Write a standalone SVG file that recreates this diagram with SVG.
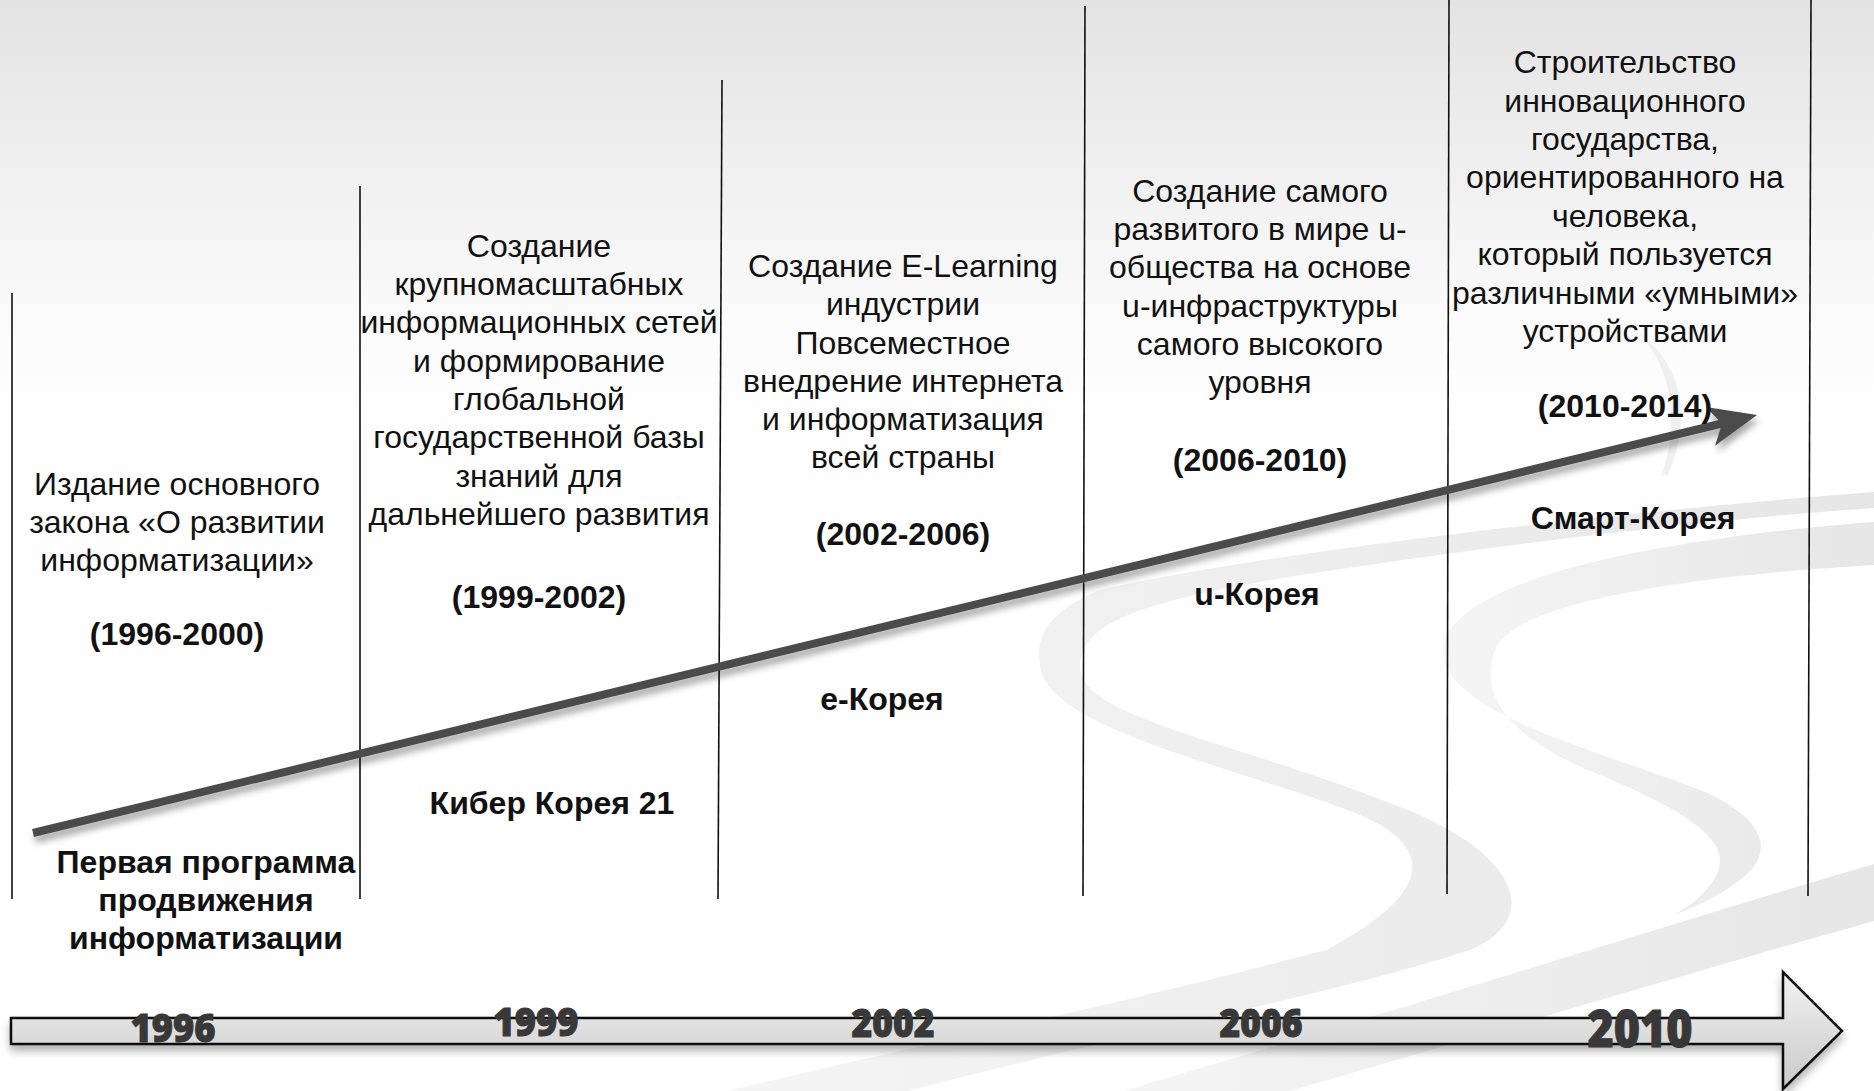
<svg xmlns="http://www.w3.org/2000/svg" width="1874" height="1091" viewBox="0 0 1874 1091">
<defs>
  <linearGradient id="bg" x1="0" y1="0" x2="0" y2="1091" gradientUnits="userSpaceOnUse">
    <stop offset="0" stop-color="#e3e3e3"/>
    <stop offset="0.12" stop-color="#ededed"/>
    <stop offset="0.3" stop-color="#fbfbfb"/>
    <stop offset="0.4" stop-color="#ffffff"/>
  </linearGradient>
  <linearGradient id="bar" x1="0" y1="0" x2="0" y2="1" >
    <stop offset="0" stop-color="#f2f2f2"/>
    <stop offset="1" stop-color="#c9c9c9"/>
  </linearGradient>
  <linearGradient id="swoosh" x1="0" y1="0" x2="1" y2="0">
    <stop offset="0" stop-color="#f5f5f5"/>
    <stop offset="1" stop-color="#e6e6e6"/>
  </linearGradient>
  <filter id="shadow" x="-5%" y="-20%" width="110%" height="160%">
    <feDropShadow dx="2" dy="6" stdDeviation="3.5" flood-color="#000" flood-opacity="0.35"/>
  </filter>
  <filter id="barShadow" x="-2%" y="-30%" width="104%" height="170%">
    <feDropShadow dx="0" dy="6" stdDeviation="4" flood-color="#000" flood-opacity="0.3"/>
  </filter>
  <style>
    .t { font-family: "Liberation Sans", Arial, sans-serif; font-size: 32px; fill: #111; text-anchor: middle; }
    .b { font-family: "Liberation Sans", Arial, sans-serif; font-size: 32px; font-weight: bold; fill: #111; text-anchor: middle; }
    .yr { font-family: "Open Sans", Lato, sans-serif; font-weight: 800; fill: #383838; stroke: #383838; stroke-width: 1; text-anchor: middle; }
    .vl { stroke: #111; stroke-width: 1.6; fill: none; }
    .sw { fill: url(#swoosh); }
  </style>
</defs>

<rect x="0" y="0" width="1874" height="1091" fill="url(#bg)"/>

<g id="background-swooshes">
  <path class="sw" d="M1874,492 C1700,505 1300,545 1100,590 C1050,610 1035,635 1040,665 C1045,730 1250,770 1360,815 C1430,845 1440,890 1326,950 C1100,1010 850,1060 729,1091 L908,1091 C1100,1040 1350,990 1470,950 C1540,920 1520,860 1420,815 C1240,740 1078,720 1080,665 C1082,620 1150,600 1300,575 C1500,545 1700,520 1874,508 Z"/>
  <path class="sw" d="M1874,522 C1700,535 1470,570 1445,640 C1425,710 1600,750 1700,790 C1760,815 1780,850 1740,880 C1720,895 1700,905 1674,915 C1700,900 1720,880 1720,860 C1720,830 1660,800 1600,775 C1500,735 1480,690 1495,650 C1515,600 1700,575 1874,565 Z"/>
  <path class="sw" d="M1123,1091 C1400,1010 1650,930 1874,864 L1874,921 C1700,970 1500,1030 1290,1091 Z"/>
  <path fill="#efefef" d="M1638,332 C1672,368 1680,420 1662,475 L1668,475 C1692,420 1684,366 1638,332 Z"/>
</g>

<g id="connectors">
  <line class="vl" x1="12" y1="293" x2="12" y2="899"/>
  <line class="vl" x1="360" y1="186" x2="360" y2="899"/>
  <line class="vl" x1="722" y1="80" x2="718" y2="899"/>
  <line class="vl" x1="1085" y1="6" x2="1083" y2="896"/>
  <line class="vl" x1="1449" y1="0" x2="1447" y2="894"/>
  <line class="vl" x1="1811" y1="0" x2="1808" y2="896"/>

  <g id="progress-arrow" filter="url(#shadow)">
    <line x1="33" y1="833" x2="1724" y2="423" stroke="#4b4b4b" stroke-width="8"/>
    <path d="M1757,415 L1705.7,406.9 L1722,423.5 L1715.1,445.7 Z" fill="#4b4b4b"/>
  </g>

  <path id="timeline-bar" filter="url(#barShadow)" d="M11,1018 H1783 V972 L1842,1031 L1783,1089 V1044 H11 Z" fill="url(#bar)" stroke="#111" stroke-width="2.5" stroke-linejoin="miter"/>
</g>

<g id="years">
  <text class="yr" x="173" y="1042" font-size="38" textLength="85" lengthAdjust="spacingAndGlyphs">1996</text>
  <text class="yr" x="536" y="1036" font-size="38" textLength="85" lengthAdjust="spacingAndGlyphs">1999</text>
  <text class="yr" x="893" y="1037" font-size="38" textLength="83" lengthAdjust="spacingAndGlyphs">2002</text>
  <text class="yr" x="1261" y="1037" font-size="38" textLength="83" lengthAdjust="spacingAndGlyphs">2006</text>
  <text class="yr" x="1640" y="1047" font-size="51" textLength="105" lengthAdjust="spacingAndGlyphs">2010</text>
</g>

<g id="stage-1996">
  <text class="t" x="177" y="495">Издание основного</text>
  <text class="t" x="177" y="533">закона «О развитии</text>
  <text class="t" x="177" y="571">информатизации»</text>
  <text class="b" x="177" y="645">(1996-2000)</text>
  <text class="b" x="206" y="873">Первая программа</text>
  <text class="b" x="206" y="911">продвижения</text>
  <text class="b" x="206" y="949">информатизации</text>
</g>

<g id="stage-1999">
  <text class="t" x="539" y="257">Создание</text>
  <text class="t" x="539" y="295">крупномасштабных</text>
  <text class="t" x="539" y="333">информационных сетей</text>
  <text class="t" x="539" y="372">и формирование</text>
  <text class="t" x="539" y="410">глобальной</text>
  <text class="t" x="539" y="448">государственной базы</text>
  <text class="t" x="539" y="487">знаний для</text>
  <text class="t" x="539" y="525">дальнейшего развития</text>
  <text class="b" x="539" y="608">(1999-2002)</text>
  <text class="b" x="552" y="814">Кибер Корея 21</text>
</g>

<g id="stage-2002">
  <text class="t" x="903" y="277">Создание E-Learning</text>
  <text class="t" x="903" y="315">индустрии</text>
  <text class="t" x="903" y="354">Повсеместное</text>
  <text class="t" x="903" y="392">внедрение интернета</text>
  <text class="t" x="903" y="430">и информатизация</text>
  <text class="t" x="903" y="468">всей страны</text>
  <text class="b" x="903" y="545">(2002-2006)</text>
  <text class="b" x="882" y="710">e-Корея</text>
</g>

<g id="stage-2006">
  <text class="t" x="1260" y="202">Создание самого</text>
  <text class="t" x="1260" y="240">развитого в мире u-</text>
  <text class="t" x="1260" y="278">общества на основе</text>
  <text class="t" x="1260" y="317">u-инфраструктуры</text>
  <text class="t" x="1260" y="355">самого высокого</text>
  <text class="t" x="1260" y="393">уровня</text>
  <text class="b" x="1260" y="471">(2006-2010)</text>
  <text class="b" x="1257" y="605">u-Корея</text>
</g>

<g id="stage-2010">
  <text class="t" x="1625" y="73">Строительство</text>
  <text class="t" x="1625" y="112">инновационного</text>
  <text class="t" x="1625" y="150">государства,</text>
  <text class="t" x="1625" y="188">ориентированного на</text>
  <text class="t" x="1625" y="227">человека,</text>
  <text class="t" x="1625" y="265">который пользуется</text>
  <text class="t" x="1625" y="304">различными «умными»</text>
  <text class="t" x="1625" y="342">устройствами</text>
  <text class="b" x="1625" y="417">(2010-2014)</text>
  <text class="b" x="1633" y="529">Смарт-Корея</text>
</g>
</svg>
